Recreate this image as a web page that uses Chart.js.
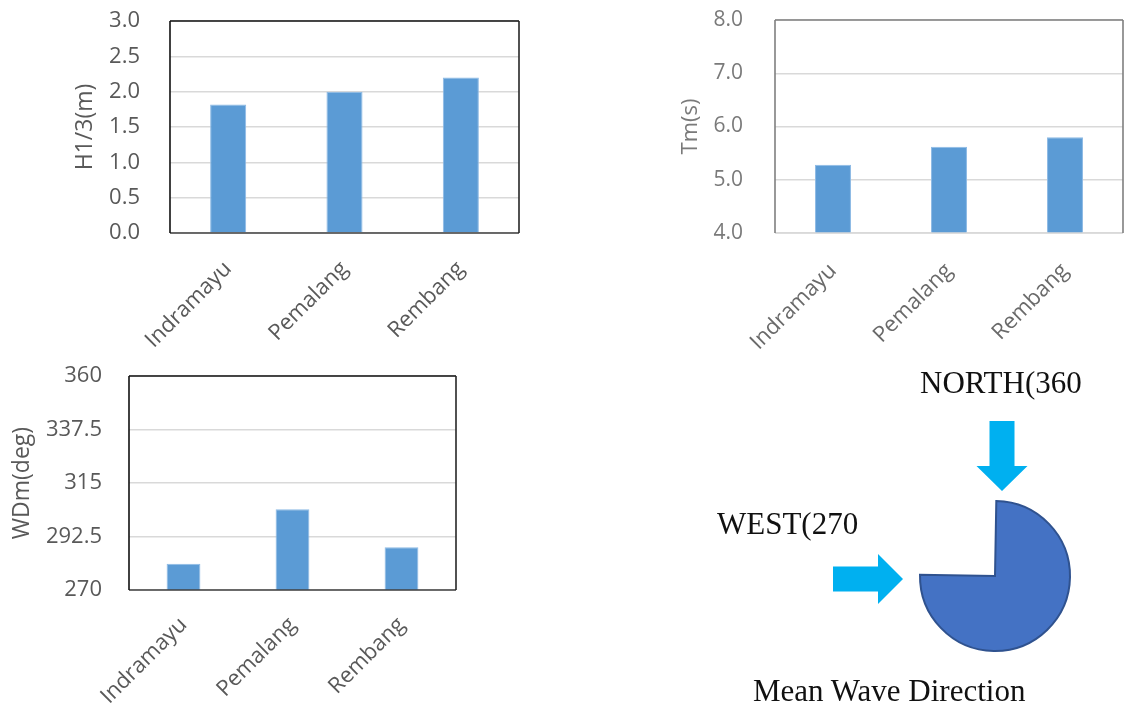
<!DOCTYPE html>
<html>
<head>
<meta charset="utf-8">
<script src="https://cdn.jsdelivr.net/npm/chart.js@4.4.1/dist/chart.umd.min.js"></script>
<style>
  html, body { margin: 0; padding: 0; background: #fff; width: 1126px; height: 709px; overflow: hidden; }
  .box { position: absolute; }
  .lbl { position: absolute; font-family: "Liberation Serif", "DejaVu Serif", serif; font-size: 31px; line-height: 31px; color: #111; white-space: nowrap; }
</style>
</head>
<body>
<div class="box" style="left:0;top:0;width:540px;height:360px"><canvas id="heightChart"></canvas></div>
<div class="box" style="left:560px;top:0;width:566px;height:360px"><canvas id="periodChart"></canvas></div>
<div class="box" style="left:0;top:350px;width:480px;height:359px"><canvas id="directionChart"></canvas></div>
<div class="box" style="left:700px;top:360px;width:426px;height:349px"><canvas id="compassChart"></canvas></div>
<div class="lbl" id="northLbl" style="left:920px;top:367px"></div>
<div class="lbl" id="westLbl" style="left:717px;top:508px"></div>
<div class="lbl" id="compassTitle" style="left:753px;top:675px"></div>

<script>
// Sites and measured wave statistics
const categories = ['Indramayu', 'Pemalang', 'Rembang'];
const waveHeight = [1.82, 2.0, 2.2];        // H1/3 (m)
const wavePeriod = [5.28, 5.62, 5.8];       // Tm (s)
const waveDirection = [281, 304, 288];      // WDm (deg)

// Axis tick labels
const heightTicks = ['0.0', '0.5', '1.0', '1.5', '2.0', '2.5', '3.0'];
const periodTicks = ['4.0', '5.0', '6.0', '7.0', '8.0'];
const directionTicks = ['270', '292.5', '315', '337.5', '360'];

// Compass sketch: arc covered from north clockwise round to west, then the open quarter
const compassSweep = [270, 90];
const compassLabels = ['NORTH(360', 'WEST(270'];
const compassTitle = 'Mean Wave Direction';

document.getElementById('northLbl').textContent = compassLabels[0];
document.getElementById('westLbl').textContent = compassLabels[1];
document.getElementById('compassTitle').textContent = compassTitle;

const UI_FONT = '"Open Sans", "Noto Sans", sans-serif';

// Outline around the plot area, each side with its own colour
const framePlugin = {
  id: 'frame',
  afterDatasetsDraw(chart, args, opts) {
    const { left, right, top, bottom } = chart.chartArea;
    const ctx = chart.ctx;
    ctx.save();
    ctx.lineWidth = opts.width || 1.5;
    const side = (c, x1, y1, x2, y2) => {
      ctx.strokeStyle = c;
      ctx.beginPath(); ctx.moveTo(x1, y1); ctx.lineTo(x2, y2); ctx.stroke();
    };
    side(opts.bottom, left, bottom, right, bottom);
    side(opts.top, left, top, right, top);
    side(opts.left, left, top, left, bottom);
    side(opts.right, right, top, right, bottom);
    ctx.restore();
  }
};

function makeBarChart(id, box, area, values, yMin, yMax, step, tickLabels, title, st) {
  new Chart(document.getElementById(id), {
    type: 'bar',
    data: {
      labels: categories,
      datasets: [{
        data: values,
        backgroundColor: '#5B9BD5',
        borderColor: '#8DBAE5',
        borderWidth: 1,
        borderSkipped: 'bottom',
        barPercentage: 0.31,
        categoryPercentage: 1
      }]
    },
    options: {
      responsive: true,
      maintainAspectRatio: false,
      animation: false,
      events: [],
      layout: {
        padding: { top: area.top - box.top, right: box.left + box.width - area.right, left: 0, bottom: 0 }
      },
      plugins: {
        legend: { display: false },
        tooltip: { enabled: false },
        frame: st.frame
      },
      scales: {
        x: {
          grid: { display: false, drawTicks: false },
          border: { display: false },
          ticks: {
            color: st.labelColor,
            font: { family: UI_FONT, size: st.xSize },
            maxRotation: 45, minRotation: 45,
            autoSkip: false,
            padding: st.xPad
          },
          afterFit: s => {
            s.height = box.top + box.height - area.bottom;
            s.paddingLeft = 0; s.paddingRight = 0;
          }
        },
        y: {
          min: yMin, max: yMax,
          ticks: {
            stepSize: step,
            color: st.tickColor,
            font: { family: UI_FONT, size: st.ySize },
            padding: st.yPad,
            callback: (v, i) => tickLabels[i]
          },
          grid: { color: '#d9d9d9', lineWidth: 1.5, drawTicks: false },
          border: { display: false },
          title: {
            display: true,
            text: title,
            color: st.titleColor,
            font: { family: UI_FONT, size: st.titleSize },
            padding: { top: st.titlePad, bottom: 0 }
          },
          afterFit: s => {
            s.width = area.left - box.left;
            s.paddingTop = 0; s.paddingBottom = 0;
          }
        }
      }
    },
    plugins: [framePlugin]
  });
}

makeBarChart('heightChart',
  { left: 0, top: 0, width: 540, height: 360 },
  { left: 170, top: 21, right: 519, bottom: 233 },
  waveHeight, 0, 3, 0.5, heightTicks, 'H1/3(m)',
  { tickColor: '#595959', labelColor: '#595959', titleColor: '#595959',
    ySize: 22, xSize: 22, titleSize: 23, yPad: 30, xPad: 23, titlePad: 72,
    frame: { top: '#111', left: '#111', right: '#262626', bottom: '#404040', width: 1.6 } });

makeBarChart('periodChart',
  { left: 560, top: 0, width: 566, height: 360 },
  { left: 775, top: 20, right: 1123, bottom: 233 },
  wavePeriod, 4, 8, 1, periodTicks, 'Tm(s)',
  { tickColor: '#7a7a7a', labelColor: '#6a6a6a', titleColor: '#7a7a7a',
    ySize: 21, xSize: 22, titleSize: 22, yPad: 32, xPad: 25, titlePad: 118,
    frame: { top: '#7f7f7f', left: '#7f7f7f', right: '#7f7f7f', bottom: '#d9d9d9', width: 1.6 } });

makeBarChart('directionChart',
  { left: 0, top: 350, width: 480, height: 359 },
  { left: 129, top: 376, right: 456, bottom: 590 },
  waveDirection, 270, 360, 22.5, directionTicks, 'WDm(deg)',
  { tickColor: '#595959', labelColor: '#595959', titleColor: '#595959',
    ySize: 22, xSize: 22, titleSize: 23, yPad: 27, xPad: 22, titlePad: 9,
    frame: { top: '#111', left: '#111', right: '#262626', bottom: '#404040', width: 1.6 } });

// Arrows pointing in from the north and from the west towards the compass arc
const arrowsPlugin = {
  id: 'compassArrows',
  afterDatasetsDraw(chart) {
    const arc = chart.getDatasetMeta(0).data[0];
    const cx = arc.x, cy = arc.y, r = arc.outerRadius;
    const ctx = chart.ctx;
    const poly = pts => {
      ctx.beginPath();
      pts.forEach(([px, py], i) => i ? ctx.lineTo(px, py) : ctx.moveTo(px, py));
      ctx.closePath(); ctx.fill();
    };
    ctx.save();
    ctx.fillStyle = '#00B0F0';
    // from the north, pointing down
    const nx = cx + 7, ny = cy - r - 10;
    poly([[nx - 12.5, ny - 70], [nx + 12.5, ny - 70], [nx + 12.5, ny - 25], [nx + 25.5, ny - 25],
          [nx, ny], [nx - 25.5, ny - 25], [nx - 12.5, ny - 25]]);
    // from the west, pointing right
    const wx = cx - r - 17, wy = cy + 3;
    poly([[wx - 70, wy - 12.5], [wx - 25, wy - 12.5], [wx - 25, wy - 25], [wx, wy],
          [wx - 25, wy + 25], [wx - 25, wy + 12.5], [wx - 70, wy + 12.5]]);
    ctx.restore();
  }
};

new Chart(document.getElementById('compassChart'), {
  type: 'pie',
  data: {
    labels: ['covered', 'open'],
    datasets: [{
      data: compassSweep,
      backgroundColor: ['#4472C4', 'rgba(0,0,0,0)'],
      borderColor: ['#2F528F', 'rgba(0,0,0,0)'],
      borderWidth: [2, 0],
      borderJoinStyle: 'miter',
      hoverOffset: 0
    }]
  },
  options: {
    responsive: true,
    maintainAspectRatio: false,
    animation: false,
    events: [],
    rotation: 1,
    radius: 75,
    layout: { padding: { left: 220, right: 56, top: 141, bottom: 58 } },
    plugins: { legend: { display: false }, tooltip: { enabled: false } }
  },
  plugins: [arrowsPlugin]
});
</script>
</body>
</html>
